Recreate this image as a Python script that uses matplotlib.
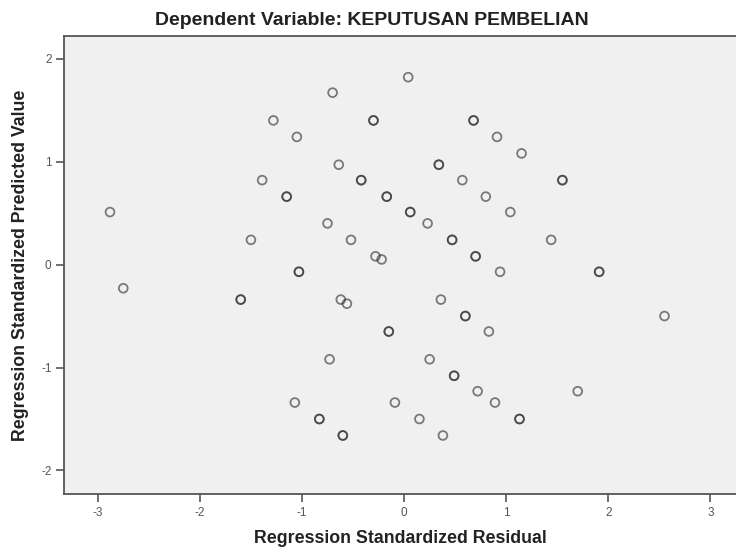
import matplotlib
matplotlib.use("Agg")
import matplotlib.pyplot as plt

plt.rcParams['font.family'] = ['Liberation Sans', 'DejaVu Sans']
plt.rcParams['axes.unicode_minus'] = False

# standardized residual (x) vs standardized predicted value (y)
# points that appear twice in the data are listed twice (drawn darker)
resid = [-0.70, -1.28, -1.05, -0.64, -1.39, -2.88, -0.75, -1.50, -0.52, -0.28,
         -0.22, 0.04, 0.91, 1.15, 0.57, 0.80, 0.23, 1.04, 1.44, 0.94,
         -2.75, -0.62, -0.56, -0.73, -1.07, -0.09, 0.36, 0.83, 2.55, 0.25,
         0.72, 0.89, 0.15, 1.70, 0.38]
pred = [1.67, 1.40, 1.24, 0.97, 0.82, 0.51, 0.40, 0.24, 0.24, 0.08,
        0.05, 1.82, 1.24, 1.08, 0.82, 0.66, 0.40, 0.51, 0.24, -0.07,
        -0.23, -0.34, -0.38, -0.92, -1.34, -1.34, -0.34, -0.65, -0.50, -0.92,
        -1.23, -1.34, -1.50, -1.23, -1.66]

resid_dup = [-0.30, -0.42, -1.15, -0.17, -1.03, 0.68, 0.34, 1.55, 0.06, 0.47,
             0.70, 1.91, -1.60, -0.15, -0.83, -0.60, 0.60, 0.49, 1.13]
pred_dup = [1.40, 0.82, 0.66, 0.66, -0.07, 1.40, 0.97, 0.82, 0.51, 0.24,
            0.08, -0.07, -0.34, -0.65, -1.50, -1.66, -0.50, -1.08, -1.50]

x_all = resid + resid_dup + resid_dup
y_all = pred + pred_dup + pred_dup

fig = plt.figure(figsize=(7.36, 5.54), dpi=100)
ax = fig.add_axes([0.087, 0.108, 0.913, 0.827])
ax.set_facecolor('#f0f0f0')

ax.scatter(x_all, y_all, s=40, facecolors='none', edgecolors='#2a2a2a',
           linewidths=1.3, alpha=0.6, zorder=3)

ax.set_xlim(-3.33, 3.25)
ax.set_ylim(-2.23, 2.22)
ax.set_xticks([-3, -2, -1, 0, 1, 2, 3])
ax.set_yticks([-2, -1, 0, 1, 2])

for side in ['left', 'bottom', 'top']:
    ax.spines[side].set_color('#555555')
    ax.spines[side].set_linewidth(1.3)
ax.spines['right'].set_visible(False)

ax.tick_params(axis='both', direction='out', length=6, width=1.2,
               color='#555555', labelsize=8.5, labelcolor='#555555', pad=3)

# title sits a bit left of the axes centre in the original
ax.set_title('Dependent Variable: KEPUTUSAN PEMBELIAN', fontsize=14,
             fontweight='bold', color='#222222', pad=8, x=0.458)
ax.set_xlabel('Regression Standardized Residual', fontsize=12.8,
              fontweight='bold', color='#222222', labelpad=8)
ax.set_ylabel('Regression Standardized Predicted Value', fontsize=12.8,
              fontweight='bold', color='#222222', labelpad=9)

fig.savefig('out.png', dpi=100)
